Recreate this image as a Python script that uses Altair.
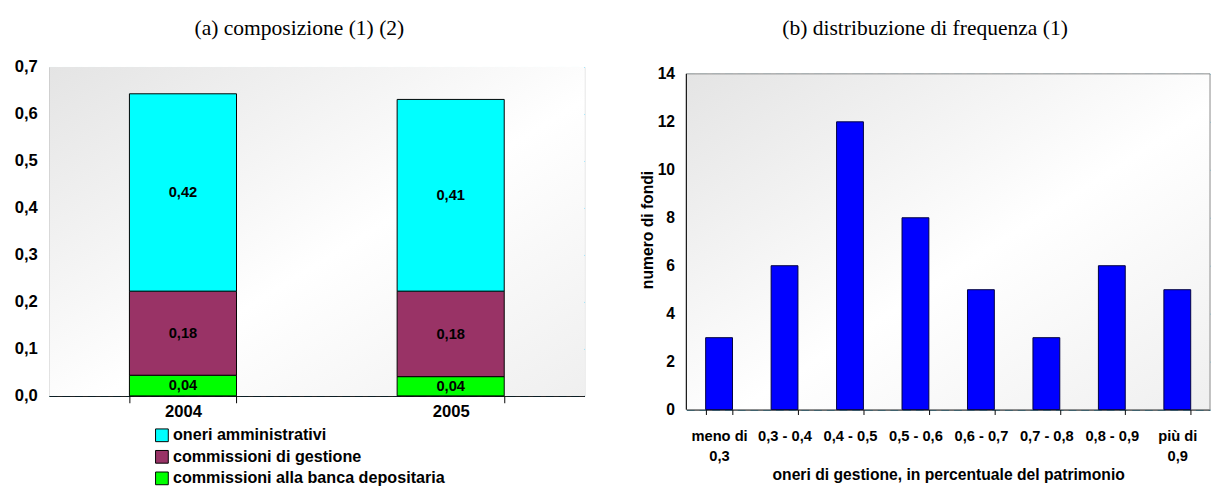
import altair as alt
import pandas as pd

# ---------------- data ----------------
years = ["2004", "2005"]
series = ["oneri amministrativi", "commissioni di gestione", "commissioni alla banca depositaria"]
oneri_amm = [0.42, 0.408]
comm_gest = [0.179, 0.182]
comm_banca = [0.044, 0.041]
series_colors = ["#00FFFF", "#993366", "#00FF00"]

classes = ["meno di 0,3", "0,3 - 0,4", "0,4 - 0,5", "0,5 - 0,6",
           "0,6 - 0,7", "0,7 - 0,8", "0,8 - 0,9", "più di 0,9"]
n_fondi = [3, 6, 12, 8, 5, 3, 6, 5]

FONT = "Liberation Sans, Arial"
TFONT = "Liberation Serif, Times New Roman"
GRID = "#33CCFF"

rows = []
for i, y in enumerate(years):
    for s, vals, o in [(series[2], comm_banca, 0), (series[1], comm_gest, 1), (series[0], oneri_amm, 2)]:
        rows.append({"anno": y, "serie": s, "v": vals[i], "ord": o})
df_a = pd.DataFrame(rows)
df_b = pd.DataFrame({"classe": classes, "n": n_fondi})

grad = alt.Gradient(gradient="linear", x1=0, y1=0, x2=1, y2=1,
                    stops=[alt.GradientStop(color="#e4e4e4", offset=0),
                           alt.GradientStop(color="#ffffff", offset=0.55),
                           alt.GradientStop(color="#efefef", offset=1)])

# ---------------- panel (a) ----------------
WA, HA = 547, 336
bg_a = alt.Chart(alt.Data(values=[{}])).mark_rect(fill=grad).encode(
    x=alt.value(0), x2=alt.value(WA), y=alt.value(0), y2=alt.value(HA))

base_a = alt.Chart(df_a).transform_stack(
    stack="v", groupby=["anno"], as_=["y0", "y1"], sort=[alt.SortField("ord")]
).transform_calculate(
    mid="(datum.y0 + datum.y1) / 2",
    lab="replace(format(datum.v, '.2f'), '.', ',')"
)

xscale_a = alt.Scale(domain=years, paddingInner=0.6, paddingOuter=0.3)
xa = alt.X("anno:N", title=None, scale=xscale_a,
           axis=alt.Axis(labelAngle=0, labelFont=FONT, labelFontSize=17, labelFontWeight="bold",
                         labelColor="black", domainColor="black", tickColor="black",
                         tickBand="extent", tickSize=7, labelPadding=1, grid=False))
ya_scale = alt.Scale(domain=[0, 0.7], nice=False)

bars_a = base_a.mark_bar(stroke="black", strokeWidth=1).encode(
    x=xa,
    y=alt.Y("y0:Q", scale=ya_scale, title=None,
            axis=alt.Axis(values=[0, 0.1, 0.2, 0.3, 0.4, 0.5, 0.6, 0.7],
                          labelExpr="replace(format(datum.value, '.1f'), '.', ',')",
                          labelFont=FONT, labelFontSize=17, labelFontWeight="bold", labelColor="black",
                          ticks=False, labelPadding=12, domainColor="black",
                          grid=True, gridColor=GRID, gridDash=[8, 5], gridWidth=1)),
    y2="y1:Q",
    color=alt.Color("serie:N", scale=alt.Scale(domain=series, range=series_colors),
                    legend=alt.Legend(title=None, orient="none", legendX=107, legendY=368,
                                      direction="vertical", symbolType="square", symbolSize=169,
                                      symbolStrokeColor="black", symbolStrokeWidth=1,
                                      labelFont=FONT, labelFontSize=16.5, labelFontWeight="bold",
                                      labelColor="black", rowPadding=4, labelOffset=3,
                                      labelLimit=0)),
    order=alt.Order("ord:Q"),
)
text_a = base_a.mark_text(font=FONT, fontSize=15, fontWeight="bold", color="black").encode(
    x=alt.X("anno:N", scale=xscale_a),
    y=alt.Y("mid:Q", scale=ya_scale),
    text="lab:N",
)
panel_a = alt.layer(bg_a, bars_a, text_a).properties(
    width=WA, height=HA,
    title=alt.TitleParams("(a) composizione (1) (2)", font=TFONT, fontSize=22,
                          fontWeight="normal", color="black", offset=19, anchor="middle",
                          frame="bounds"))

# ---------------- panel (b) ----------------
# the view starts 7px above the framed plot area (which ends at 14 on the y axis)
WB, HB = 535, 350
YMAX_B = 14 * HB / (HB - 7)
yscale_b = alt.Scale(domain=[0, YMAX_B], nice=False)

bg_b = alt.Chart(alt.Data(values=[{}])).mark_rect(fill=grad, stroke="#888888", strokeWidth=1).encode(
    x=alt.value(0), x2=alt.value(WB), y=alt.datum(14), y2=alt.datum(0))
left_axis_b = alt.Chart(alt.Data(values=[{}])).mark_rule(color="black", strokeWidth=1).encode(
    x=alt.value(0), y=alt.datum(0), y2=alt.datum(14))

label_expr = ("indexof(datum.label, ' di ') > 0 ? "
              "[slice(datum.label, 0, indexof(datum.label, ' di ') + 3), "
              "slice(datum.label, indexof(datum.label, ' di ') + 4)] : datum.label")

bars_b = alt.Chart(df_b).mark_bar(color="#0000FF", stroke="#000040", strokeWidth=1).encode(
    x=alt.X("classe:N", sort=classes,
            scale=alt.Scale(paddingInner=0.59, paddingOuter=0.295),
            title="oneri di gestione, in percentuale del patrimonio",
            axis=alt.Axis(labelAngle=0, labelExpr=label_expr, labelFont=FONT, labelFontSize=15,
                          labelFontWeight="bold", labelColor="black", labelPadding=15,
                          labelLineHeight=20,
                          domainColor="black", tickColor="black", tickBand="extent", tickSize=5,
                          titleFont=FONT, titleFontSize=16, titleFontWeight="bold", titleColor="black",
                          titlePadding=3, grid=False)),
    y=alt.Y("n:Q", scale=yscale_b,
            title="numero di fondi",
            axis=alt.Axis(values=[0, 2, 4, 6, 8, 10, 12, 14], labelFont=FONT, labelFontSize=16,
                          labelFontWeight="bold", labelColor="black", ticks=False, labelPadding=12,
                          domain=False, titleFont=FONT, titleFontSize=16,
                          titleFontWeight="bold", titleColor="black", titlePadding=2, titleY=166,
                          grid=True, gridColor=GRID, gridDash=[8, 5], gridWidth=1)),
)
panel_b = alt.layer(bg_b, bars_b, left_axis_b).properties(
    width=WB, height=HB,
    view=alt.ViewBackground(stroke="transparent"),
    title=alt.TitleParams("(b) distribuzione di frequenza (1)", font=TFONT, fontSize=22,
                          fontWeight="normal", color="black", offset=27, anchor="middle",
                          frame="bounds"))

chart = alt.hconcat(panel_a, panel_b, spacing=54).configure_view(
    stroke="#888888", strokeWidth=1
).properties(
    padding={"left": 5, "top": 3, "right": 0, "bottom": 5}
).configure(background="white")

chart.save("out.html", embed_options={"renderer": "svg", "actions": False})
